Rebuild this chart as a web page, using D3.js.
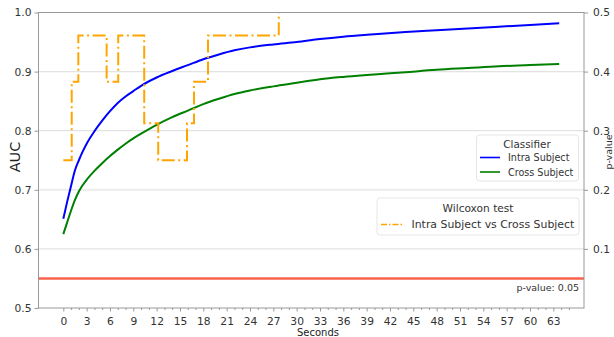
<!DOCTYPE html>
<html>
<head>
<meta charset="utf-8">
<script src="https://cdn.jsdelivr.net/npm/d3@7"></script>
<style>
  html, body { margin: 0; padding: 0; background: #fff; }
  svg { display: block; font-family: "DejaVu Sans", sans-serif; }
</style>
</head>
<body>
<svg id="chart" width="614" height="337"></svg>
<script>
// ---- data ----
const seconds = [0,0.5,1,1.5,2,2.5,3,4,5,6,7,8,9,10,12,14,16,18,20,22,24,27,30,33,36,40,44,48,52,56,60,63.75];
const intraSubject = [0.651,0.68,0.707,0.733,0.75,0.765,0.778,0.799,0.817,0.833,0.847,0.858,0.867,0.876,0.89,0.901,0.911,0.921,0.929,0.936,0.941,0.946,0.95,0.955,0.959,0.963,0.967,0.97,0.973,0.976,0.979,0.982];
const crossSubject = [0.625,0.645,0.665,0.683,0.697,0.708,0.717,0.732,0.745,0.757,0.768,0.778,0.787,0.795,0.81,0.823,0.834,0.845,0.854,0.862,0.868,0.875,0.881,0.887,0.891,0.895,0.899,0.903,0.906,0.909,0.911,0.913];
const pvalTimes = [0, 1.08, 1.93, 5.57, 7.06, 10.4, 12.2, 15.9, 16.8, 18.6, 27.7, 63.75];
const pvalValues = [0.25, 0.383, 0.461, 0.383, 0.461, 0.3125, 0.25, 0.3125, 0.383, 0.461, 0.6, 0.6];
const significance = 0.05;
const xTicks = [0,3,6,9,12,15,18,21,24,27,30,33,36,39,42,45,48,51,54,57,60,63];
const aucTicks = [0.5,0.6,0.7,0.8,0.9,1.0];
const pTicks = [0.1,0.2,0.3,0.4,0.5];
const seriesNames = ["Intra Subject", "Cross Subject"];
const seriesColors = ["#0000ff", "#008000"];

// ---- layout ----
const L = 38.5, R = 584, T = 12.5, B = 308;
const svg = d3.select("#chart");
const x = d3.scaleLinear().domain([-3.19, 66.94]).range([L, R]);
const y = d3.scaleLinear().domain([0.5, 1.0]).range([B, T]);
const yp = d3.scaleLinear().domain([0, 0.5]).range([B, T]);

svg.append("defs").append("clipPath").attr("id", "clip")
  .append("rect").attr("x", L).attr("y", T).attr("width", R - L).attr("height", B - T);

// gridlines
svg.append("g").selectAll("line").data(aucTicks.slice(1, 5)).join("line")
  .attr("x1", L).attr("x2", R).attr("y1", d => y(d)).attr("y2", d => y(d))
  .attr("stroke", "#e3e3e3").attr("stroke-width", 1.3);

// significance line
svg.append("line").attr("x1", L).attr("x2", R)
  .attr("y1", yp(significance)).attr("y2", yp(significance))
  .attr("stroke", "#f8624c").attr("stroke-width", 2.5);

// curves
const plot = svg.append("g").attr("clip-path", "url(#clip)");
[intraSubject, crossSubject].forEach((vals, i) => {
  const line = d3.line().x((d, j) => x(seconds[j])).y(d => y(d)).curve(d3.curveMonotoneX);
  plot.append("path").datum(vals).attr("d", line)
    .attr("fill", "none").attr("stroke", seriesColors[i]).attr("stroke-width", 2);
});

// p-value step line
const pline = d3.line().x((d, j) => x(pvalTimes[j])).y(d => yp(d)).curve(d3.curveStepAfter);
plot.append("path").datum(pvalValues).attr("d", pline)
  .attr("fill", "none").attr("stroke", "#ffa500").attr("stroke-width", 2)
  .attr("stroke-dasharray", "13,3.5,2,3.5");

// axes frame
const spine = "#999";
svg.append("rect").attr("x", L).attr("y", T).attr("width", R - L).attr("height", B - T)
  .attr("fill", "none").attr("stroke", spine).attr("stroke-width", 1);

// left axis
const leftAx = d3.axisLeft(y).tickValues(aucTicks).tickFormat(d3.format(".1f")).tickSize(4).tickPadding(3);
const gl = svg.append("g").attr("transform", `translate(${L},0)`).call(leftAx);
gl.select(".domain").remove();
gl.selectAll("line").attr("stroke", spine);
gl.selectAll("text").attr("font-size", 10.7).attr("fill", "#333").attr("font-family", "DejaVu Sans");

// right axis
const rightAx = d3.axisRight(yp).tickValues(pTicks).tickFormat(d3.format(".1f")).tickSize(4).tickPadding(5);
const gr = svg.append("g").attr("transform", `translate(${R},0)`).call(rightAx);
gr.select(".domain").remove();
gr.selectAll("line").attr("stroke", spine);
gr.selectAll("text").attr("font-size", 10.7).attr("fill", "#333").attr("font-family", "DejaVu Sans");

// bottom axis (major + minor)
const minor = d3.range(0, 67).filter(v => v % 3 !== 0);
const gm = svg.append("g").attr("transform", `translate(0,${B})`)
  .call(d3.axisBottom(x).tickValues(minor).tickSize(2).tickFormat(""));
gm.select(".domain").remove();
gm.selectAll("line").attr("stroke", spine);
const gb = svg.append("g").attr("transform", `translate(0,${B})`)
  .call(d3.axisBottom(x).tickValues(xTicks).tickSize(3.5).tickPadding(5.5).tickFormat(d3.format("d")));
gb.select(".domain").remove();
gb.selectAll("line").attr("stroke", spine);
gb.selectAll("text").attr("font-size", 10.7).attr("fill", "#333").attr("font-family", "DejaVu Sans");

// axis labels
svg.append("text").attr("transform", "translate(20,157) rotate(-90)")
  .attr("text-anchor", "middle").attr("font-size", 14.5).attr("fill", "#222").text("AUC");
svg.append("text").attr("x", 318).attr("y", 335.5).attr("text-anchor", "middle")
  .attr("font-size", 10).attr("fill", "#222").text("Seconds");
svg.append("text").attr("transform", "translate(612,152) rotate(-90)")
  .attr("text-anchor", "middle").attr("font-size", 9.5).attr("fill", "#333").text("p-value");

// significance label
svg.append("text").attr("x", 579).attr("y", 291).attr("text-anchor", "end")
  .attr("font-size", 9.5).attr("fill", "#333").text("p-value: " + significance);

// legend 1
const lg1 = svg.append("g");
lg1.append("rect").attr("x", 476.5).attr("y", 135).attr("width", 102).attr("height", 46)
  .attr("rx", 3).attr("fill", "#fff").attr("fill-opacity", 0.85).attr("stroke", "#e6e6e6");
lg1.append("text").attr("x", 527).attr("y", 147.5).attr("text-anchor", "middle")
  .attr("font-size", 10.4).attr("fill", "#333").text("Classifier");
seriesNames.forEach((n, i) => {
  const cy = 157.5 + i * 14.5;
  lg1.append("line").attr("x1", 480).attr("x2", 500).attr("y1", cy).attr("y2", cy)
    .attr("stroke", seriesColors[i]).attr("stroke-width", 1.6);
  lg1.append("text").attr("x", 508).attr("y", cy + 3.5).attr("font-size", 9.6)
    .attr("fill", "#333").text(n);
});

// legend 2
const lg2 = svg.append("g");
lg2.append("rect").attr("x", 377).attr("y", 198).attr("width", 202).attr("height", 37)
  .attr("rx", 3).attr("fill", "#fff").attr("fill-opacity", 0.85).attr("stroke", "#e6e6e6");
lg2.append("text").attr("x", 478).attr("y", 211.5).attr("text-anchor", "middle")
  .attr("font-size", 10.6).attr("fill", "#333").text("Wilcoxon test");
lg2.append("line").attr("x1", 381).attr("x2", 403).attr("y1", 224.5).attr("y2", 224.5)
  .attr("stroke", "#ffa500").attr("stroke-width", 1.6).attr("stroke-dasharray", "6,2,1.5,2");
lg2.append("text").attr("x", 411.5).attr("y", 228.3).attr("font-size", 10.9)
  .attr("fill", "#333").text(seriesNames[0] + " vs " + seriesNames[1]);
</script>
</body>
</html>
